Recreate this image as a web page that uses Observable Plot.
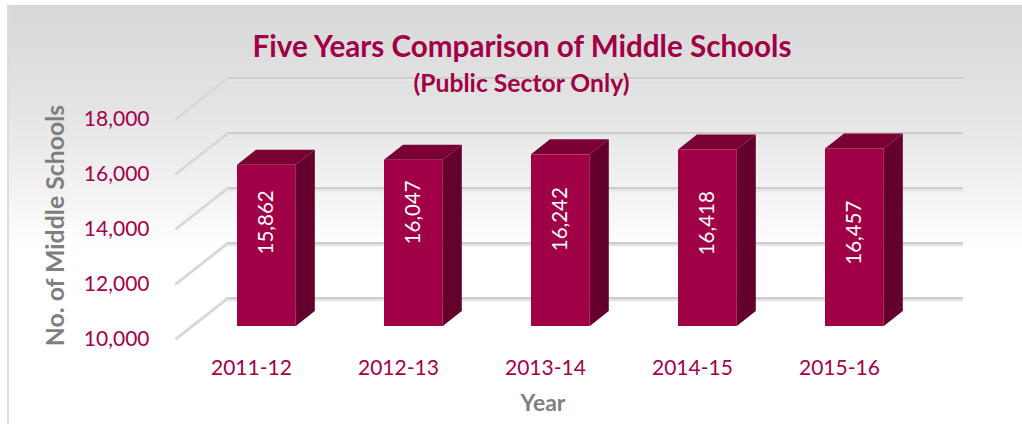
<!DOCTYPE html>
<html>
<head>
<meta charset="utf-8">
<script src="https://cdn.jsdelivr.net/npm/d3@7"></script>
<script src="https://cdn.jsdelivr.net/npm/@observablehq/plot@0.6"></script>
<style>
  html, body { margin: 0; padding: 0; background: #fff; }
  #panel {
    position: absolute; left: 7px; top: 5px; width: 1015px; height: 419px;
    box-sizing: border-box; border-left: 2px solid #dcdcdc;
    background: linear-gradient(to bottom, #d8d8d8 0%, #e4e4e4 25%, #f3f3f3 45%, #fdfdfd 56%, #ffffff 59%);
  }
  #chart { position: absolute; left: 0; top: 0; width: 1022px; height: 424px; font-family: Lato, sans-serif; }
  #chart svg { background: transparent; display: block; }
  .head { position: absolute; left: 0; text-align: center; font-family: Lato, sans-serif; font-weight: 700; color: #a00045; white-space: nowrap; z-index: 2; }
  #t { top: 28px; left: 252px; width: 540px; font-size: 29.6px; line-height: 36px; }
  #s { top: 69px; left: 413px; width: 217px; font-size: 24.7px; line-height: 28px; }
</style>
</head>
<body>
<div id="panel"></div>
<div id="chart"></div>
<div class="head" id="t">Five Years Comparison of Middle Schools</div>
<div class="head" id="s">(Public Sector Only)</div>
<script>
const years = ["2011-12", "2012-13", "2013-14", "2014-15", "2015-16"];
const schools = [15862, 16047, 16242, 16418, 16457];
const yTicks = [10000, 12000, 14000, 16000, 18000];
const rows = years.map((year, i) => ({year, value: schools[i]}));

const crimson = "#a00045", top_ = "#7a0033", side = "#63002c", ink = "#a5004c", grey = "#7f7f7f";
const lift = -12, depthX = 19, depthY = -15;
const labelNudge = [-23.5, -31, -21.5, -15, -5]; // hand-placed labels in the original

function withDepth(index, scales, values, dims, ctx, next) {
  const g = next(index, scales, values, dims, ctx);
  const b = scales.x.bandwidth;
  const bw = typeof b === "function" ? b() : b;
  const sel = d3.select(g);
  for (const i of index) {
    const x0 = values.x[i], x1 = x0 + bw;
    const yT = Math.min(values.y1[i], values.y2[i]), yB = Math.max(values.y1[i], values.y2[i]);
    sel.insert("polygon", ":first-child").attr("fill", side)
      .attr("points", [[x1, yT], [x1 + depthX, yT + depthY], [x1 + depthX, yB + depthY], [x1, yB]].join(" "));
    sel.insert("polygon", ":first-child").attr("fill", top_)
      .attr("points", [[x0, yT], [x0 + depthX, yT + depthY], [x1 + depthX, yT + depthY], [x1, yT]].join(" "));
  }
  return g;
}

const diag = { draw(ctx, l) { ctx.moveTo(0, 0); ctx.lineTo(0, -l); } };

const plot = Plot.plot({
  width: 1022, height: 424,
  marginLeft: 176, marginRight: 59, marginTop: 60, marginBottom: 86,
  style: {background: "transparent", fontFamily: "Lato, sans-serif"},
  x: {type: "band", domain: years, range: [148.8, 972], padding: 0.6, round: false, axis: null},
  y: {domain: [10000, 18000], range: [338, 118], axis: null},
  marks: [
    Plot.vector(yTicks, {y: d => d, frameAnchor: "left", length: 64.8, rotate: 51.9, anchor: "start",
      shape: diag, stroke: "#d8d8d8", strokeWidth: 3, strokeDasharray: "1.2 1.6"}),
    Plot.ruleY(yTicks, {y: d => d, dy: -38.5, insetLeft: 51, stroke: "#e4e4e4", strokeWidth: 2.5}),
    Plot.ruleY(yTicks, {y: d => d, dy: -40.5, insetLeft: 51, stroke: "#cdcdcd", strokeWidth: 2}),
    Plot.barY(rows, {x: "year", y1: () => 10000, y2: "value", dy: lift, fill: crimson, render: withDepth}),
    Plot.axisY(yTicks, {anchor: "left", tickSize: 0, tickPadding: 27, dy: 1, tickFormat: d3.format(","),
      fontSize: 21, fill: ink, label: null}),
    Plot.axisX(years, {anchor: "bottom", tickSize: 0, tickPadding: 0, dy: 22, dx: -15.5, fontSize: 21, fill: ink, label: null}),
    Plot.text(rows, {x: "year", y: "value", text: d => d3.format(",")(d.value), rotate: -90,
      fill: "#fff", fontSize: 20.5, render(index, s, v, d, c, next) {
        const vals = {...v, y: Float64Array.from(v.y, (y, i) => (y + s.y(10000)) / 2 + lift + labelNudge[i])};
        return next(index, s, vals, d, c);
      }}),
    Plot.text(["No. of Middle Schools"], {frameAnchor: "left", y: () => 14000, dy: -3, dx: -120, rotate: -90, fill: grey,
      textAnchor: "middle", fontWeight: 700, fontSize: 24.8}),
    Plot.text(["Year"], {frameAnchor: "bottom", dy: 72, dx: -27, fill: grey, fontWeight: 700, fontSize: 23})
  ]
});
document.getElementById("chart").append(plot);
</script>
</body>
</html>
